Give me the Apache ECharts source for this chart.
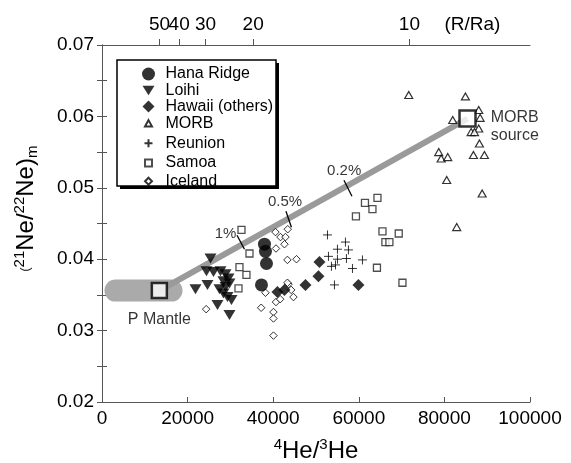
<!DOCTYPE html>
<html>
<head>
<meta charset="utf-8">
<script src="https://cdn.jsdelivr.net/npm/echarts@6/dist/echarts.min.js"></script>
<style>
html, body { margin: 0; padding: 0; background: #fff; }
#main { width: 571px; height: 463px; }
</style>
</head>
<body>
<div id="main"></div>
<script>
// 数据：4He/3He 对 (21Ne/22Ne)m
var hanaRidge = [[37960, 0.0421], [38190, 0.0411], [38430, 0.0394], [37260, 0.0364]];
var loihi = [[25350, 0.0401], [24410, 0.0383], [26050, 0.0382], [27680, 0.0383], [28850, 0.0379],
  [29550, 0.0373], [29780, 0.0366], [28380, 0.0369], [21840, 0.0358], [24640, 0.0364],
  [27450, 0.0358], [28380, 0.0352], [29320, 0.0347], [30250, 0.0343], [26980, 0.0336],
  [29780, 0.0322], [28850, 0.0361]];
var hawaiiOthers = [[40990, 0.0354], [42630, 0.0357], [47540, 0.0364], [50570, 0.0376], [50810, 0.0396], [59920, 0.0364]];
var morb = [[71670, 0.0630], [84910, 0.0628], [81950, 0.0595], [88020, 0.0609], [88350, 0.0598],
  [88020, 0.0583], [86250, 0.0578], [87030, 0.0578], [88180, 0.0562], [86780, 0.0546],
  [89350, 0.0546], [78680, 0.0550], [79240, 0.0541], [80780, 0.0543], [80540, 0.0511],
  [88820, 0.0492], [82880, 0.0445]];
var reunion = [[52680, 0.0434], [56880, 0.0424], [55010, 0.0414], [57580, 0.0413], [52910, 0.0404],
  [55010, 0.0400], [57110, 0.0401], [60850, 0.0399], [53610, 0.0390], [54550, 0.0392],
  [58520, 0.0387], [54310, 0.0364]];
var samoa = [[32590, 0.0441], [34460, 0.0408], [32120, 0.0389], [33750, 0.0378], [31890, 0.0359],
  [64360, 0.0486], [61440, 0.0479], [63190, 0.0470], [59330, 0.0460], [65530, 0.0439],
  [69330, 0.0436], [66210, 0.0424], [67150, 0.0424], [64240, 0.0388], [70200, 0.0367]];
var iceland = [[40530, 0.0438], [41700, 0.0431], [42870, 0.0431], [43400, 0.0442], [42630, 0.0421],
  [40650, 0.0415], [43330, 0.0399], [45440, 0.0400], [38190, 0.0353], [43570, 0.0365],
  [44200, 0.0357], [44730, 0.0347], [40650, 0.0340], [41630, 0.0344], [37190, 0.0332],
  [40060, 0.0326], [40060, 0.0317], [40060, 0.0293], [24340, 0.0330], [43330, 0.0367]];

// 端元和混合线
var pMantle = [13400, 0.0356];
var morbSource = [85400, 0.0597];
var pMantleBand = [[3150, 0.0356], [16240, 0.0356]];
var mixTicks = [
  [[31540, 0.04335], [33290, 0.04139]],
  [[42980, 0.04672], [44260, 0.04448]],
  [[56530, 0.05106], [58400, 0.04882]]
];
var mixLabels = [['1%', 28850, 0.04349], ['0.5%', 42750, 0.04798], ['0.2%', 56580, 0.05232]];

// 上方 R/Ra 刻度（位置按图上读取，单位 4He/3He）
var raValues = [50, 40, 30, 20, 10];
var raTickPos = [13430, 18030, 24180, 35320, 71830];
var raUnitPos = 86550;

var font = 'Liberation Sans, Arial, Helvetica, sans-serif';
var axisColor = '#555';

var myChart = echarts.init(document.getElementById('main'));

//图例图标：用 M 点撑出 24x16 的框，保持大小
function pad(p) { return 'path://M0,0M24,16' + p; }

function raLabel(v) {
  if (Math.abs(v - raUnitPos) < 1) return '(R/Ra)';
  for (var i = 0; i < raTickPos.length; i++) {
    if (Math.abs(v - raTickPos[i]) < 1) return String(raValues[i]);
  }
  return '';
}

// 上方轴公用设置
function topAxis(ticks, labels, showLine) {
  return {
    type: 'value',
    position: 'top',
    min: 0,
    max: 100000,
    splitLine: { show: false },
    axisLine: { show: showLine, lineStyle: { color: axisColor, width: 1 } },
    axisTick: { inside: false, length: 6, customValues: ticks, lineStyle: { color: axisColor } },
    axisLabel: {
      fontSize: 19, color: '#000', margin: 11, fontFamily: font, hideOverlap: false,
      showMinLabel: true, showMaxLabel: true,
      customValues: labels,
      formatter: raLabel
    }
  };
}

var option = {
  animation: false,
  backgroundColor: '#fff',
  textStyle: { fontFamily: font, color: '#000' },
  grid: { left: 102, top: 45, width: 428, height: 357, outerBoundsMode: 'none' },
  graphic: [{
    type: 'rect',
    z: 3,
    shape: { x: 120, y: 63, width: 159, height: 126 },
    style: { fill: '#000' }
  }, {
    type: 'rect',
    z: 3,
    shape: { x: 117, y: 60, width: 159, height: 126 },
    style: { fill: '#fff', stroke: '#000', lineWidth: 1.5 }
  }],
  legend: {
    orient: 'vertical',
    left: 134,
    top: 66,
    z: 5,
    padding: 0,
    itemWidth: 24,
    itemHeight: 16,
    itemGap: 0.2,
    selectedMode: false,
    textStyle: { fontSize: 16, lineHeight: 16, fontFamily: font, color: '#000' },
    data: [
      { name: 'Hana Ridge', icon: pad('M5.5,8A6.5,6.5,0,1,1,18.5,8A6.5,6.5,0,1,1,5.5,8Z') },
      { name: 'Loihi', icon: pad('M6,3.5H18L12,13Z') },
      { name: 'Hawaii (others)', icon: pad('M12,2L18,8L12,14L6,8Z') },
      { name: 'MORB', icon: pad('M12,4.5L15.5,11H8.5Z') },
      { name: 'Reunion', icon: pad('M12,4V12M8,8H16') },
      { name: 'Samoa', icon: pad('M8.5,4.5H15.5V11.5H8.5Z') },
      { name: 'Iceland', icon: pad('M12,4.5L15.5,8L12,11.5L8.5,8Z') }
    ]
  },
  xAxis: [{
    type: 'value',
    position: 'bottom',
    min: 0,
    max: 100000,
    interval: 20000,
    splitLine: { show: false },
    axisLine: { lineStyle: { color: axisColor, width: 1 } },
    axisTick: { inside: true, length: 5, lineStyle: { color: axisColor } },
    axisLabel: { fontSize: 19, color: '#000', margin: 7, fontFamily: font, formatter: function (v) { return String(v); } },
    name: '{sup|4}{t|He/}{sup|3}{t|He}',
    nameLocation: 'middle',
    nameGap: 35,
    nameTextStyle: {
      rich: {
        t: { fontSize: 24, lineHeight: 28, fontFamily: font, color: '#000' },
        sup: { fontSize: 15, verticalAlign: 'top', fontFamily: font, color: '#000' }
      }
    }
  },
  // 50 单独一条轴，避免和 40 的标签重叠被隐藏
  topAxis(raTickPos.slice(1), raTickPos.slice(1).concat([raUnitPos]), true),
  topAxis(raTickPos.slice(0, 1), raTickPos.slice(0, 1), false)
  ],
  yAxis: [{
    type: 'value',
    position: 'left',
    min: 0.02,
    max: 0.07,
    interval: 0.01,
    splitLine: { show: false },
    axisLine: { lineStyle: { color: axisColor, width: 1 } },
    axisTick: { inside: true, length: 5, lineStyle: { color: axisColor } },
    minorTick: { show: true, splitNumber: 2, length: 5, lineStyle: { color: axisColor } },
    minorSplitLine: { show: false },
    axisLabel: { fontSize: 19, color: '#000', margin: 8, fontFamily: font, formatter: function (v) { return v.toFixed(2); } },
    name: '({sup|21}{t|Ne/}{sup|22}{t|Ne)}{sub|m}',
    nameLocation: 'middle',
    nameRotate: 90,
    nameGap: 62,
    nameTextStyle: {
      padding: [0, 0, 0, 30],
      rich: {
        t: { fontSize: 24, lineHeight: 28, fontFamily: font, color: '#000' },
        sup: { fontSize: 15, verticalAlign: 'top', fontFamily: font, color: '#000' },
        sub: { fontSize: 15, verticalAlign: 'bottom', fontFamily: font, color: '#000' }
      }
    }
  }, {
    type: 'value',
    position: 'right',
    min: 0.02,
    max: 0.07,
    interval: 0.01,
    splitLine: { show: false },
    axisLine: { lineStyle: { color: axisColor, width: 1 } },
    axisTick: { inside: true, length: 5, lineStyle: { color: axisColor } },
    minorTick: { show: true, splitNumber: 2, length: 5, lineStyle: { color: axisColor } },
    axisLabel: { show: false }
  }],
  series: [
    {
      name: 'band', type: 'line', silent: true, symbol: 'none', z: 1,
      data: pMantleBand,
      lineStyle: { color: '#aaa', width: 22, cap: 'round' }
    },
    {
      name: 'mix', type: 'line', silent: true, symbol: 'none', z: 1,
      data: [pMantle, morbSource],
      lineStyle: { color: '#9a9a9a', width: 6 }
    },
    {
      name: 'mixTicks', type: 'lines', coordinateSystem: 'cartesian2d', silent: true, z: 2,
      data: mixTicks.map(function (c) { return { coords: c }; }),
      lineStyle: { color: '#000', width: 1.3, opacity: 1 }
    },
    {
      name: 'mixLabels', type: 'scatter', silent: true, symbolSize: 1, z: 2,
      itemStyle: { color: 'rgba(0,0,0,0)' },
      data: mixLabels.map(function (d) { return { name: d[0], value: [d[1], d[2]] }; }),
      label: { show: true, position: 'inside', formatter: '{b}', fontSize: 15, color: '#000', fontFamily: font }
    },
    {
      name: 'Samoa', type: 'scatter', symbol: 'rect', symbolSize: 7, z: 3,
      itemStyle: { color: '#fff', borderColor: '#222', borderWidth: 1.3 },
      data: samoa
    },
    {
      name: 'Iceland', type: 'scatter', symbol: 'diamond', symbolSize: 7.5, z: 3,
      itemStyle: { color: '#fff', borderColor: '#000', borderWidth: 1 },
      data: iceland
    },
    {
      name: 'Reunion', type: 'scatter', symbol: 'path://M5,0V10M0,5H10', symbolSize: 9, z: 3,
      itemStyle: { color: 'none', borderColor: '#000', borderWidth: 1 },
      data: reunion
    },
    {
      name: 'MORB', type: 'scatter', symbol: 'triangle', symbolSize: [8, 7], z: 3,
      itemStyle: { color: '#fff', borderColor: '#000', borderWidth: 1.2 },
      data: morb
    },
    {
      name: 'Hawaii (others)', type: 'scatter', symbol: 'diamond', symbolSize: 12, z: 4,
      itemStyle: { color: '#000' },
      data: hawaiiOthers
    },
    {
      name: 'Loihi', type: 'scatter', symbol: 'path://M0,0L12,0L6,10Z', symbolSize: [12, 10], z: 4,
      itemStyle: { color: '#000' },
      data: loihi
    },
    {
      name: 'Hana Ridge', type: 'scatter', symbol: 'circle', symbolSize: 13, z: 4,
      itemStyle: { color: '#000' },
      data: hanaRidge
    },
    {
      name: 'P Mantle', type: 'scatter', symbol: 'rect', symbolSize: 15, z: 5, silent: true,
      itemStyle: { color: '#fff', borderColor: '#000', borderWidth: 2.5 },
      data: [pMantle],
      label: { show: true, position: 'bottom', distance: 12, formatter: 'P Mantle', fontSize: 16, color: '#000', fontFamily: font }
    },
    {
      name: 'MORB source', type: 'scatter', symbol: 'rect', symbolSize: 16, z: 5, silent: true,
      itemStyle: { color: '#fff', borderColor: '#000', borderWidth: 2.5 },
      data: [morbSource],
      label: {
        show: true, position: 'right', distance: 13, offset: [0, 8], align: 'left',
        formatter: 'MORB\nsource', fontSize: 16, lineHeight: 18, color: '#000', fontFamily: font,
        backgroundColor: '#fff', padding: [0, 1]
      }
    }
  ]
};

myChart.setOption(option);
</script>
</body>
</html>
